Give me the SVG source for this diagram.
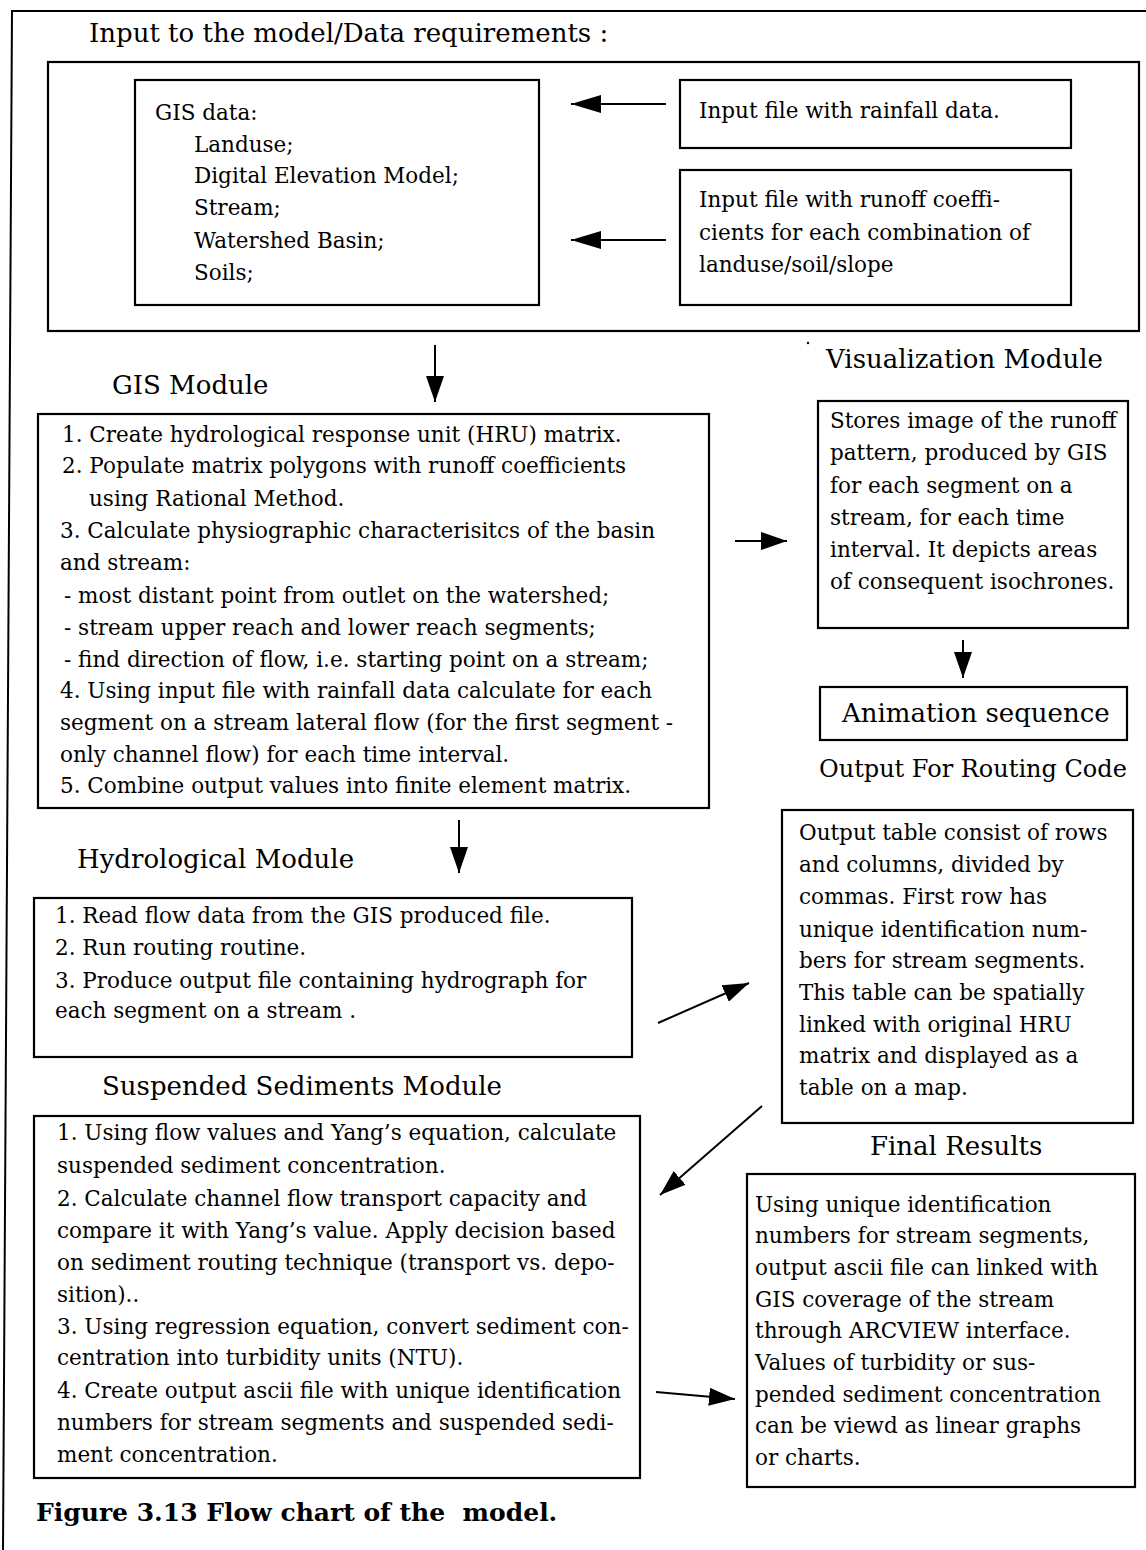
<svg xmlns="http://www.w3.org/2000/svg" width="1146" height="1550" viewBox="0 0 1146 1550">
<defs>
<style>
.box{fill:#fff;stroke:#000;stroke-width:2.2}
.t{font-family:"DejaVu Serif","Liberation Serif",serif;font-size:21.5px;fill:#000}
.h{font-family:"DejaVu Serif","Liberation Serif",serif;font-size:26px;fill:#000}
.cap{font-family:"DejaVu Serif","Liberation Serif",serif;font-size:25px;font-weight:bold;fill:#000;white-space:pre}
.c{stroke:#000;stroke-width:2;fill:none}
</style>
<marker id="ah" viewBox="0 0 26 18" refX="26" refY="9" markerWidth="26" markerHeight="18" markerUnits="userSpaceOnUse" orient="auto"><path d="M0,0 L26,9 L0,18 Z" fill="#000"/></marker>
<marker id="ahb" viewBox="0 0 30 18" refX="30" refY="9" markerWidth="30" markerHeight="18" markerUnits="userSpaceOnUse" orient="auto"><path d="M0,0 L30,9 L0,18 Z" fill="#000"/></marker>
</defs>
<rect width="1146" height="1550" fill="#fff"/>
<path d="M3,1550 L12,11 H1146" fill="none" stroke="#000" stroke-width="2"/>
<circle cx="808" cy="343" r="1.2" fill="#000"/>

<g id="input">
<text class="h" x="89" y="42">Input to the model/Data requirements :</text>
<rect class="box" x="48" y="62" width="1091" height="269"/>
</g>

<g id="gisdata">
<rect class="box" x="135" y="80" width="404" height="225"/>
<text class="t" x="155" y="120">GIS data:</text>
<text class="t" x="194" y="152">Landuse;</text>
<text class="t" x="194" y="183">Digital Elevation Model;</text>
<text class="t" x="194" y="215">Stream;</text>
<text class="t" x="194" y="248">Watershed Basin;</text>
<text class="t" x="194" y="280">Soils;</text>
</g>

<g id="rainfall">
<rect class="box" x="680" y="80" width="391" height="68"/>
<text class="t" x="699" y="118">Input file with rainfall data.</text>
</g>

<g id="runoff">
<rect class="box" x="680" y="170" width="391" height="135"/>
<text class="t" x="699" y="207">Input file with runoff coeffi-</text>
<text class="t" x="699" y="240">cients for each combination of</text>
<text class="t" x="699" y="272">landuse/soil/slope</text>
</g>

<g id="gismodule">
<text class="h" x="112" y="394">GIS Module</text>
<rect class="box" x="38" y="414" width="671" height="394"/>
<text class="t" x="62" y="442">1. Create hydrological response unit (HRU) matrix.</text>
<text class="t" x="62" y="473">2. Populate matrix polygons with runoff coefficients</text>
<text class="t" x="89" y="506">using Rational Method.</text>
<text class="t" x="60" y="538">3. Calculate physiographic characterisitcs of the basin</text>
<text class="t" x="60" y="570">and stream:</text>
<text class="t" x="64" y="603">- most distant point from outlet on the watershed;</text>
<text class="t" x="64" y="635">- stream upper reach and lower reach segments;</text>
<text class="t" x="64" y="667">- find direction of flow, i.e. starting point on a stream;</text>
<text class="t" x="60" y="698">4. Using input file with rainfall data calculate for each</text>
<text class="t" x="60" y="730">segment on a stream lateral flow (for the first segment -</text>
<text class="t" x="60" y="762">only channel flow) for each time interval.</text>
<text class="t" x="60" y="793">5. Combine output values into finite element matrix.</text>
</g>

<g id="visualization">
<text class="h" x="826" y="368">Visualization Module</text>
<rect class="box" x="818" y="401" width="310" height="227"/>
<text class="t" x="830" y="428">Stores image of the runoff</text>
<text class="t" x="830" y="460">pattern, produced by GIS</text>
<text class="t" x="830" y="493">for each segment on a</text>
<text class="t" x="830" y="525">stream, for each time</text>
<text class="t" x="830" y="557">interval. It depicts areas</text>
<text class="t" x="830" y="589">of consequent isochrones.</text>
</g>

<g id="animation">
<rect class="box" x="820" y="687" width="307" height="53"/>
<text class="h" x="842" y="722">Animation sequence</text>
</g>

<g id="output">
<text class="h" x="819" y="777" style="font-size:24px">Output For Routing Code</text>
<rect class="box" x="782" y="810" width="351" height="313"/>
<text class="t" x="799" y="840">Output table consist of rows</text>
<text class="t" x="799" y="872">and columns, divided by</text>
<text class="t" x="799" y="904">commas. First row has</text>
<text class="t" x="799" y="937">unique identification num-</text>
<text class="t" x="799" y="968">bers for stream segments.</text>
<text class="t" x="799" y="1000">This table can be spatially</text>
<text class="t" x="799" y="1032">linked with original HRU</text>
<text class="t" x="799" y="1063">matrix and displayed as a</text>
<text class="t" x="799" y="1095">table on a map.</text>
</g>

<g id="hydrological">
<text class="h" x="77" y="868">Hydrological Module</text>
<rect class="box" x="34" y="898" width="598" height="159"/>
<text class="t" x="55" y="923">1. Read flow data from the GIS produced file.</text>
<text class="t" x="55" y="955">2. Run routing routine.</text>
<text class="t" x="55" y="988">3. Produce output file containing hydrograph for</text>
<text class="t" x="55" y="1018">each segment on a stream .</text>
</g>

<g id="sediments">
<text class="h" x="102" y="1095">Suspended Sediments Module</text>
<rect class="box" x="34" y="1116" width="606" height="362"/>
<text class="t" x="57" y="1140">1. Using flow values and Yang’s equation, calculate</text>
<text class="t" x="57" y="1173">suspended sediment concentration.</text>
<text class="t" x="57" y="1206">2. Calculate channel flow transport capacity and</text>
<text class="t" x="57" y="1238">compare it with Yang’s value. Apply decision based</text>
<text class="t" x="57" y="1270">on sediment routing technique (transport vs. depo-</text>
<text class="t" x="57" y="1302">sition)..</text>
<text class="t" x="57" y="1334">3. Using regression equation, convert sediment con-</text>
<text class="t" x="57" y="1365">centration into turbidity units (NTU).</text>
<text class="t" x="57" y="1398">4. Create output ascii file with unique identification</text>
<text class="t" x="57" y="1430">numbers for stream segments and suspended sedi-</text>
<text class="t" x="57" y="1462">ment concentration.</text>
</g>

<g id="final">
<text class="h" x="870" y="1155">Final Results</text>
<rect class="box" x="747" y="1174" width="388" height="313"/>
<text class="t" x="755" y="1212">Using unique identification</text>
<text class="t" x="755" y="1243">numbers for stream segments,</text>
<text class="t" x="755" y="1275">output ascii file can linked with</text>
<text class="t" x="755" y="1307">GIS coverage of the stream</text>
<text class="t" x="755" y="1338">through ARCVIEW interface.</text>
<text class="t" x="755" y="1370">Values of turbidity or sus-</text>
<text class="t" x="755" y="1402">pended sediment concentration</text>
<text class="t" x="755" y="1433">can be viewd as linear graphs</text>
<text class="t" x="755" y="1465">or charts.</text>
</g>

<g id="caption">
<text class="cap" x="36" y="1521" xml:space="preserve">Figure 3.13 Flow chart of the  model.</text>
</g>

<g id="connectors">
<line class="c" x1="666" y1="104" x2="571" y2="104" marker-end="url(#ahb)"/>
<line class="c" x1="666" y1="240" x2="571" y2="240" marker-end="url(#ahb)"/>
<line class="c" x1="435" y1="345" x2="435" y2="402" marker-end="url(#ah)"/>
<line class="c" x1="735" y1="541" x2="787" y2="541" marker-end="url(#ah)"/>
<line class="c" x1="963" y1="640" x2="963" y2="678" marker-end="url(#ah)"/>
<line class="c" x1="459" y1="820" x2="459" y2="873" marker-end="url(#ah)"/>
<line class="c" x1="658" y1="1023" x2="749" y2="983" marker-end="url(#ah)"/>
<line class="c" x1="762" y1="1106" x2="660" y2="1195" marker-end="url(#ah)"/>
<line class="c" x1="656" y1="1392" x2="735" y2="1399" marker-end="url(#ah)"/>
</g>
</svg>
